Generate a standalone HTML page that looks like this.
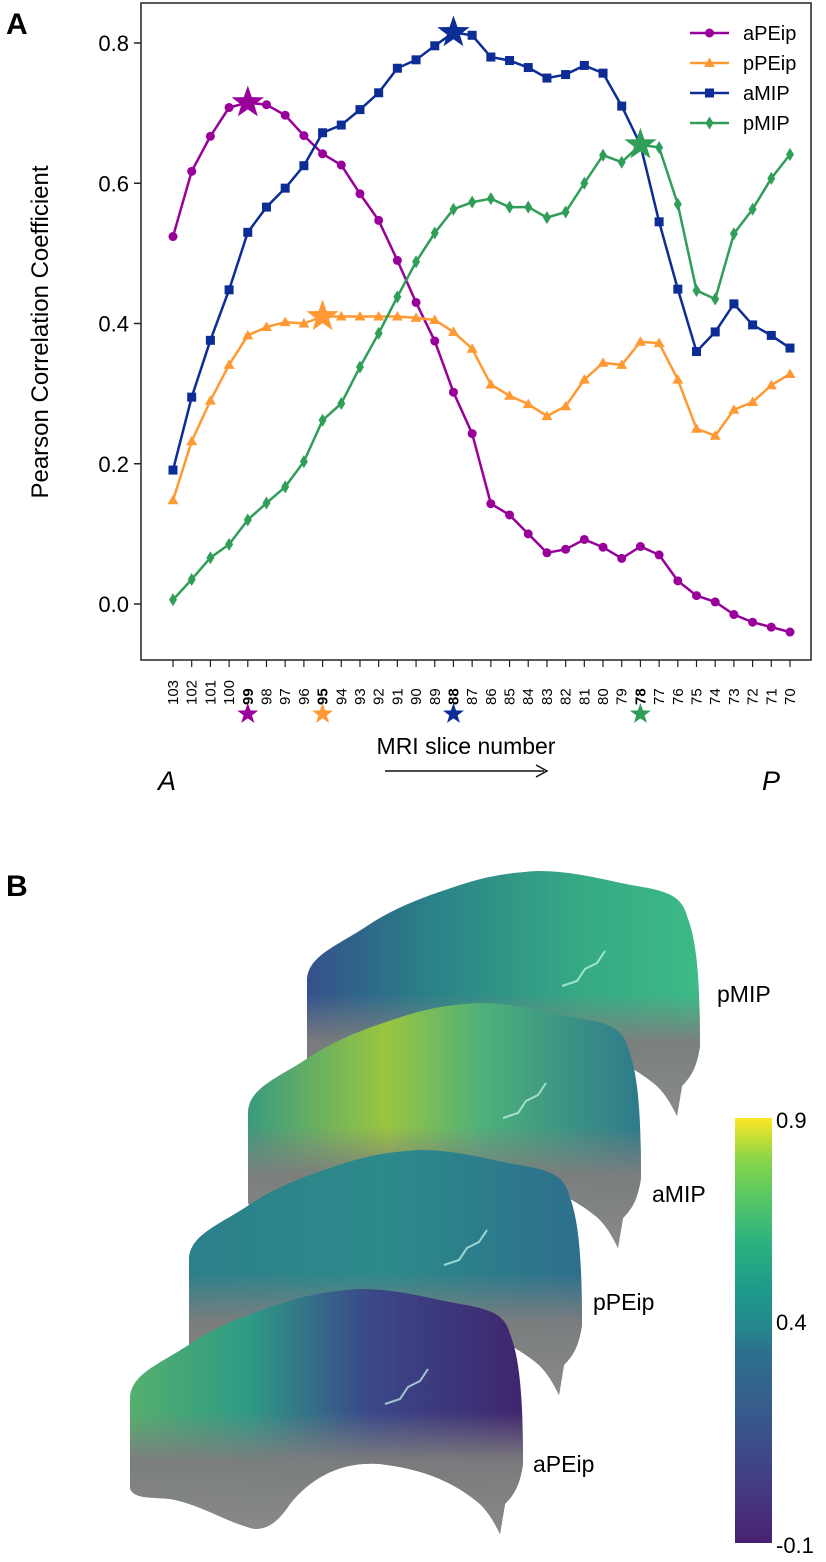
<!DOCTYPE html>
<html><head><meta charset="utf-8"><style>
html,body{margin:0;padding:0;background:#fff;}
svg{display:block;font-family:"Liberation Sans",Arial,sans-serif;}
</style></head><body>
<svg id="fig" width="826" height="1562" viewBox="0 0 826 1562" xmlns="http://www.w3.org/2000/svg">
<defs>
<linearGradient id="viridis" x1="0" y1="1" x2="0" y2="0">
<stop offset="0" stop-color="#482173"/><stop offset="0.15" stop-color="#433e85"/><stop offset="0.3" stop-color="#38598c"/><stop offset="0.45" stop-color="#2d708e"/><stop offset="0.5" stop-color="#25858e"/><stop offset="0.6" stop-color="#1e9b8a"/><stop offset="0.7" stop-color="#2ab07f"/><stop offset="0.8" stop-color="#52c569"/><stop offset="0.9" stop-color="#86d549"/><stop offset="1" stop-color="#fde725"/>
</linearGradient>
<linearGradient id="gPMIP" x1="0" y1="0" x2="1" y2="0"><stop offset="0" stop-color="#35508c"/><stop offset="0.3" stop-color="#2a8088"/><stop offset="0.7" stop-color="#36aa84"/><stop offset="1" stop-color="#3cba87"/></linearGradient>
<linearGradient id="gAMIP" x1="0" y1="0" x2="1" y2="0"><stop offset="0" stop-color="#3a9a80"/><stop offset="0.35" stop-color="#9ac640"/><stop offset="0.6" stop-color="#4db07a"/><stop offset="1" stop-color="#2d7a8c"/></linearGradient>
<linearGradient id="gPPEIP" x1="0" y1="0" x2="1" y2="0"><stop offset="0" stop-color="#2c7f8b"/><stop offset="0.5" stop-color="#2c8a8a"/><stop offset="1" stop-color="#2d6f8d"/></linearGradient>
<linearGradient id="gAPEIP" x1="0" y1="0" x2="1" y2="0"><stop offset="0" stop-color="#55b06c"/><stop offset="0.3" stop-color="#2e9a85"/><stop offset="0.6" stop-color="#3a4a8a"/><stop offset="1" stop-color="#40256e"/></linearGradient>
<linearGradient id="greyb" x1="0" y1="0" x2="0" y2="1"><stop offset="0" stop-color="#808080" stop-opacity="0"/><stop offset="0.5" stop-color="#808080" stop-opacity="0"/><stop offset="0.7" stop-color="#7d7d7d" stop-opacity="0.95"/><stop offset="1" stop-color="#8a8a8a"/></linearGradient>
</defs>

<text x="6" y="34" font-size="30" font-weight="bold">A</text>
<text x="6" y="896" font-size="30" font-weight="bold">B</text>

<rect x="141" y="3" width="670" height="657" fill="none" stroke="#222" stroke-width="1.5"/>
<g id="yaxis"></g>
<g id="xaxis"></g>
<g id="series"></g>
<text transform="translate(48,332) rotate(-90)" text-anchor="middle" font-size="24">Pearson Correlation Coefficient</text>
<text x="466" y="754" text-anchor="middle" font-size="23">MRI slice number</text>
<g><line x1="385" y1="771" x2="544" y2="771" stroke="#111" stroke-width="1.5"/><path d="M536,765 L547,771 L536,777" fill="none" stroke="#111" stroke-width="1.5"/></g>
<text x="158" y="790" font-size="27" font-style="italic">A</text>
<text x="762" y="790" font-size="27" font-style="italic">P</text>
<g id="legend"></g>

<g id="brains"></g>

<rect x="735" y="1118" width="37" height="425" fill="url(#viridis)"/>
<text x="776" y="1128" font-size="22">0.9</text>
<text x="776" y="1330" font-size="22">0.4</text>
<text x="776" y="1553" font-size="22">-0.1</text>

<script>
const slices = [103,102,101,100,99,98,97,96,95,94,93,92,91,90,89,88,87,86,85,84,83,82,81,80,79,78,77,76,75,74,73,72,71,70];
const boldSlices = [99,95,88,78];
const yTicks = [0.0,0.2,0.4,0.6,0.8];
const seriesNames = ["aPEip","pPEip","aMIP","pMIP"];
const aPEip = [0.524,0.617,0.667,0.708,0.715,0.712,0.697,0.668,0.642,0.626,0.585,0.547,0.49,0.43,0.375,0.302,0.243,0.143,0.127,0.1,0.073,0.078,0.092,0.081,0.065,0.082,0.07,0.033,0.012,0.003,-0.015,-0.026,-0.033,-0.04];
const pPEip = [0.148,0.232,0.29,0.341,0.383,0.395,0.402,0.4,0.41,0.41,0.41,0.41,0.41,0.408,0.405,0.388,0.364,0.313,0.297,0.285,0.268,0.282,0.32,0.344,0.341,0.374,0.372,0.32,0.25,0.24,0.277,0.288,0.312,0.328];
const aMIP = [0.191,0.295,0.376,0.448,0.53,0.566,0.593,0.625,0.672,0.683,0.705,0.729,0.764,0.776,0.796,0.815,0.811,0.78,0.775,0.765,0.75,0.755,0.768,0.757,0.71,0.655,0.545,0.449,0.36,0.388,0.428,0.398,0.383,0.365];
const pMIP = [0.006,0.035,0.066,0.085,0.12,0.144,0.167,0.203,0.262,0.286,0.338,0.386,0.438,0.488,0.529,0.563,0.573,0.578,0.566,0.566,0.551,0.559,0.6,0.64,0.63,0.655,0.651,0.57,0.447,0.435,0.528,0.563,0.607,0.641];

const NS="http://www.w3.org/2000/svg";
const X0=173, X1=790, Y0=604, Y08=43;
function xs(i){return X0+i*(X1-X0)/(slices.length-1);}
function ys(v){return Y0+(Y08-Y0)*v/0.8;}
function mk(tag,attrs,parent){const e=document.createElementNS(NS,tag);for(const k in attrs)e.setAttribute(k,attrs[k]);parent.appendChild(e);return e;}

const yax=document.getElementById('yaxis');
yTicks.forEach(t=>{
  const l=mk('line',{x1:141,x2:134,y1:ys(t),y2:ys(t),stroke:'#222','stroke-width':1.5},yax);
  
  
  const tx=mk('text',{x:129,y:ys(t)+8,'text-anchor':'end','font-size':22},yax);
  tx.textContent=t.toFixed(1);
  
  
});
const xax=document.getElementById('xaxis');
slices.forEach((s,i)=>{
  const l=mk('line',{x1:xs(i),x2:xs(i),y1:660,y2:667,stroke:'#222','stroke-width':1.2},xax);
  
  
  const b=boldSlices.includes(s);
  const tx=mk('text',{transform:`translate(${xs(i)+5},705) rotate(-90)`,'font-size':15,'font-weight':b?'bold':'normal'},xax);
  tx.textContent=s;
  
  
});
function star(cx,cy,R,color,parent){
  let p='';for(let k=0;k<10;k++){const r=k%2?R*0.4:R;const a=-Math.PI/2+k*Math.PI/5;p+=(k?'L':'M')+(cx+r*Math.cos(a)).toFixed(1)+','+(cy+r*Math.sin(a)).toFixed(1);}
  return mk('path',{d:p+'Z',fill:color},parent);
}
function marker(type,x,y,color,parent){
  if(type==='circle')return mk('circle',{cx:x,cy:y,r:4.5,fill:color},parent);
  if(type==='tri')return mk('path',{d:`M${x},${y-5.5}L${x+5.5},${y+4}L${x-5.5},${y+4}Z`,fill:color},parent);
  if(type==='sq')return mk('rect',{x:x-4.5,y:y-4.5,width:9,height:9,fill:color},parent);
  return mk('path',{d:`M${x},${y-6.5}L${x+4},${y}L${x},${y+6.5}L${x-4},${y}Z`,fill:color},parent);
}
const sg=document.getElementById('series');
const defs=[[aPEip,'#990099','circle'],[pPEip,'#ff9933','tri'],[aMIP,'#0c2c96','sq'],[pMIP,'#2f9e58','dia']];
defs.forEach((d,si)=>{
  const [vals,col,mt]=d;
  const g=mk('g',{},sg);
  
  
  const pl=mk('polyline',{points:vals.map((v,i)=>xs(i)+','+ys(v)).join(' '),fill:'none',stroke:col,'stroke-width':2.5},g);
  
  
  let best=0;vals.forEach((v,i)=>{if(v>vals[best])best=i;});
  vals.forEach((v,i)=>{
    if(i===best)return;
    const m=marker(mt,xs(i),ys(vals[i]),col,g);
    
    
  });
  const s=star(xs(best),ys(vals[best]),17,col,g);
  
  
  const s2=star(xs(best),714,11,col,xax);
  
  
});
const lg=document.getElementById('legend');
defs.forEach((d,si)=>{
  const y=33+si*30;
  const e=mk('g',{},lg);
  
  
  mk('line',{x1:690,x2:729,y1:y,y2:y,stroke:d[1],'stroke-width':2.5},e);
  marker(d[2],709.5,y,d[1],e);
  const t=mk('text',{x:743,y:y+7,'font-size':20},e);
  t.textContent=seriesNames[si];
});

const bg=document.getElementById('brains');
const shape="M0,110 C0,85 30,75 60,55 C90,35 120,25 150,15 C180,5 200,2 230,0 C270,0 300,10 330,15 C360,20 375,25 380,45 C390,70 393,110 393,175 C390,195 385,205 375,215 L370,245 C365,235 360,225 350,215 C320,190 290,180 250,175 C210,172 180,190 160,215 C150,230 140,240 125,240 C100,235 70,215 40,210 C20,208 5,210 0,200 Z";
const brainPos=[[307,871,'gPMIP','pMIP',717,1002],[248,1003,'gAMIP','aMIP',652,1202],[189,1150,'gPPEIP','pPEip',593,1310],[130,1289,'gAPEIP','aPEip',533,1472]];
brainPos.forEach(b=>{
  const g=mk('g',{transform:`translate(${b[0]},${b[1]})`},bg);
  
  
  mk('path',{d:shape,fill:`url(#${b[2]})`},g);
  mk('path',{d:shape,fill:'url(#greyb)'},g);
  mk('path',{d:'M255,115 L270,110 L278,98 L290,92 L298,80',fill:'none',stroke:'#cfe','stroke-width':2,opacity:0.7},g);
  const t=mk('text',{x:b[4],y:b[5],'font-size':23},bg);
  t.textContent=b[3];
  
  
});
</script>
</svg>
</body></html>
